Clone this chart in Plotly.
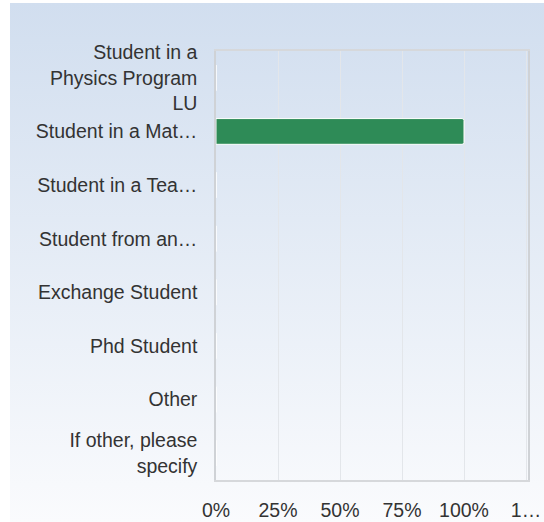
import base64
import plotly.graph_objects as go

categories = [
    "Student in a<br>Physics Program<br>LU",
    "Student in a Mat…",
    "Student in a Tea…",
    "Student from an…",
    "Exchange Student",
    "Phd Student",
    "Other",
    "If other, please<br>specify",
]
values = [0, 100, 0, 0, 0, 0, 0, 0]
tick_vals = [0, 25, 50, 75, 100, 125]
tick_text = ["0%", "25%", "50%", "75%", "100%", "1…"]

FONT = "Liberation Sans, Arial, Helvetica, sans-serif"
TXT = "#333333"

svg = (
    '<svg xmlns="http://www.w3.org/2000/svg" width="100" height="100" preserveAspectRatio="none">'
    '<defs><linearGradient id="g" x1="0" y1="0" x2="0" y2="1">'
    '<stop offset="0" stop-color="#d1deef"/><stop offset="1" stop-color="#fafbfd"/>'
    '</linearGradient></defs><rect width="100" height="100" fill="url(#g)"/></svg>'
)
src = "data:image/svg+xml;base64," + base64.b64encode(svg.encode()).decode()

fig = go.Figure(
    go.Bar(
        y=categories,
        x=values,
        orientation="h",
        width=0.48,
        marker=dict(color="#2e8b57", line=dict(color="#ffffff", width=1), cornerradius=2),
        hoverinfo="skip",
    )
)

W, H = 544, 522
L, R, T, B = 216, 16, 51, 42
pw, ph = W - L - R, H - T - B
bx0, by0 = 10, 3
fig.add_layout_image(
    source=src,
    xref="paper", yref="paper",
    x=(bx0 - L) / pw, y=(H - B - by0) / ph,
    sizex=(W - bx0) / pw, sizey=(H - by0) / ph,
    xanchor="left", yanchor="top",
    sizing="stretch", layer="below",
)

fig.update_layout(
    width=W, height=H,
    margin=dict(l=L, r=R, t=T, b=B, pad=0, autoexpand=False),
    paper_bgcolor="#ffffff",
    plot_bgcolor="rgba(0,0,0,0)",
    showlegend=False,
    font=dict(family=FONT, size=19.5, color=TXT),
    bargap=0.52,
)
fig.update_xaxes(
    range=[0, 125.8],
    tickvals=tick_vals, ticktext=tick_text,
    showgrid=True, gridcolor="#e3e6ea", gridwidth=1,
    zeroline=False,
    showline=True, linecolor="#d6d8db", linewidth=1.5, mirror=True,
    ticks="outside", ticklen=12, tickcolor="rgba(0,0,0,0)",
    tickfont=dict(family=FONT, size=19.5, color=TXT),
    automargin=False,
    fixedrange=True,
)
fig.update_yaxes(
    autorange="reversed",
    showgrid=False,
    showline=True, linecolor="#cfd2d6", linewidth=1.5, mirror=True,
    ticks="outside", ticklen=13, tickcolor="rgba(0,0,0,0)",
    tickfont=dict(family=FONT, size=19.5, color=TXT),
    automargin=False,
    fixedrange=True,
)

fig.write_html("out.html", config={"displayModeBar": False})
